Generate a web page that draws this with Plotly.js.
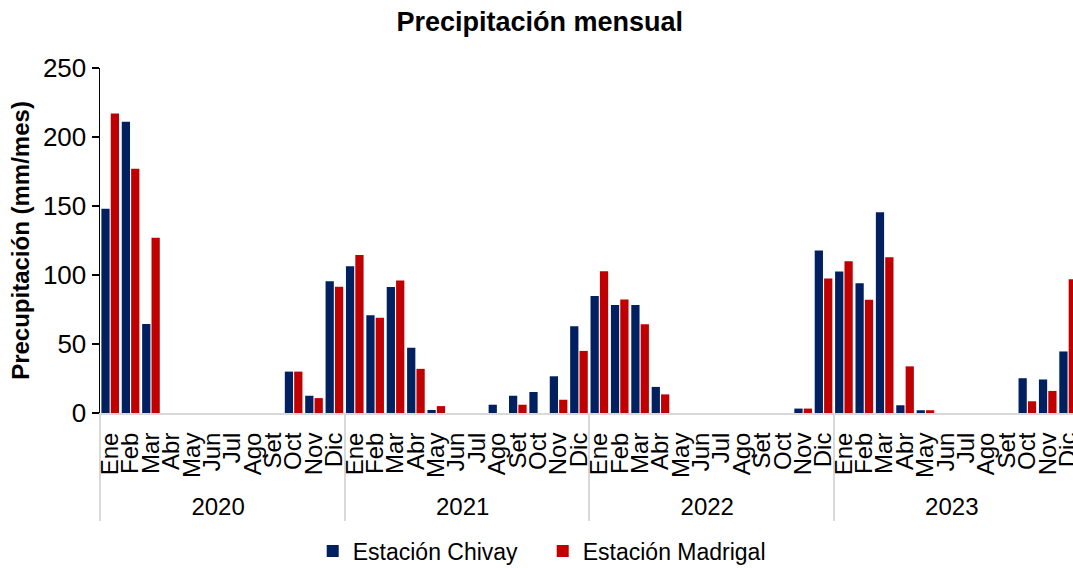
<!DOCTYPE html>
<html>
<head>
<meta charset="utf-8">
<script src="https://cdn.plot.ly/plotly-3.0.1.min.js"></script>
<style>
html,body{margin:0;padding:0;background:#fff;}
#chart{width:1073px;height:568px;}
</style>
</head>
<body>
<div id="chart"></div>
<script>
var years = ["2020", "2021", "2022", "2023"];
var months = ["Ene","Feb","Mar","Abr","May","Jun","Jul","Ago","Set","Oct","Nov","Dic"];

var chivay = [
  148, 211, 64.5, 0, 0, 0, 0, 0, 0, 30, 12.5, 95.4,
  106.4, 70.8, 91.3, 47.3, 2.2, 0, 0, 6, 12.5, 15.2, 26.6, 62.8,
  84.8, 78.3, 78.3, 18.9, 0, 0, 0, 0, 0, 0, 3.2, 117.8,
  102.6, 94, 145.4, 5.6, 2, 0, 0, 0, 0, 25.2, 24.3, 44.6
];
var madrigal = [
  217, 177, 127, 0, 0, 0, 0, 0, 0, 30, 10.8, 91.4,
  114.5, 69.1, 96.1, 32, 5, 0, 0, 0, 6, 0, 9.6, 45,
  102.7, 82.2, 64.4, 13.5, 0, 0, 0, 0, 0, 0, 3.2, 97.4,
  110, 82, 112.8, 33.8, 2, 0, 0, 0, 0, 8.5, 16, 96.9
];

var xYear = [], xMonth = [];
years.forEach(function(y){ months.forEach(function(m){ xYear.push(y); xMonth.push(m); }); });

var font = "Liberation Sans, Arial, sans-serif";

var traces = [
  {type:"bar", name:"Estación Chivay", x:[xYear, xMonth], y:chivay,
   marker:{color:"#002060", line:{width:0}}},
  {type:"bar", name:"Estación Madrigal", x:[xYear, xMonth], y:madrigal,
   marker:{color:"#C00000", line:{width:0}}}
];

var layout = {
  width:1073, height:568,
  margin:{l:100, r:0, t:68, b:155, pad:0, autoexpand:false},
  paper_bgcolor:"#ffffff", plot_bgcolor:"#ffffff",
  font:{family:font, color:"#000000", size:23},
  title:{text:"<b>Precipitación mensual</b>", font:{size:27, family:font, color:"#000"},
         xref:"container", x:0.503, yref:"container", y:0.962, yanchor:"middle"},
  barmode:"group", bargap:0.08, bargroupgap:0.12,
  showlegend:true,
  legend:{orientation:"h", xref:"paper", x:0.455, xanchor:"center", y:-0.40, yanchor:"middle",
          font:{size:23, family:font}, itemwidth:30, traceorder:"normal",
          entrywidth:185, entrywidthmode:"pixels"},
  xaxis:{type:"multicategory", range:[-0.5, 47.24], tickangle:-90, dtick:1, nticks:100,
         showline:true, linecolor:"#d9d9d9", linewidth:2,
         showdividers:true, dividercolor:"#d9d9d9", dividerwidth:2,
         ticks:"", showgrid:false, zeroline:false, ticklabelstandoff:8,
         tickfont:{size:24, family:font, color:"#000"}},
  yaxis:{range:[0,250], dtick:50, tick0:0, showline:true, linecolor:"#000", linewidth:1.5,
         ticks:"outside", ticklen:7, tickwidth:1.5, tickcolor:"#000",
         showgrid:false, zeroline:false,
         tickfont:{size:26, family:font, color:"#000"},
         title:{text:"<b>Precupitación (mm/mes)</b>", font:{size:24, family:font, color:"#000"}, standoff:6}}
};

Plotly.newPlot("chart", traces, layout, {displayModeBar:false, staticPlot:true});
</script>
</body>
</html>
